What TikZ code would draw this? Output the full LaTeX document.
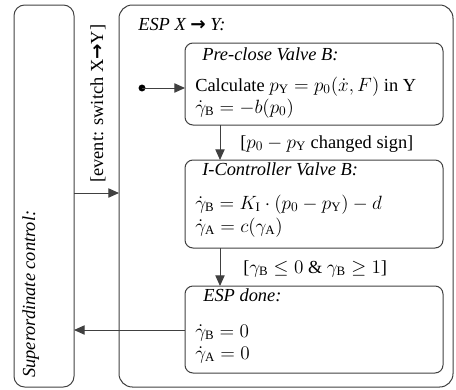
\documentclass[tikz,border=0pt]{standalone}
\usepackage{fontspec}
\setmainfont{Liberation Serif}
\newfontfamily\arrowfont{DejaVu Sans}
\usetikzlibrary{arrows.meta}
\newcommand{\arr}{{\arrowfont\bfseries →}}
\begin{document}
\begin{tikzpicture}[x=0.75pt,y=-0.75pt,
  line/.style={draw=black!75,line width=0.75pt},
  frame/.style={line,rectangle,inner sep=0pt,outer sep=0pt},
  statebox/.style={frame,rounded corners=6pt,minimum width=193.5pt},
  txt/.style={anchor=base west,inner sep=0pt,font=\fontsize{13.8}{15}\selectfont},
  ttl/.style={txt,font=\fontsize{13.8}{15}\selectfont\itshape},
  arrow/.style={line,-{Triangle[length=8pt,width=7pt]}}]
\useasboundingbox (0,0) rectangle (456,389);
% outer frames
\node[frame,rounded corners=8pt,minimum width=45pt,minimum height=286.5pt] (sup) at (44,196) {};
\node[frame,rounded corners=10pt,minimum width=250.5pt,minimum height=286.5pt] (esp) at (286,196) {};
% state boxes
\node[statebox,minimum height=61.5pt] (pre) at (314,84) {};
\node[statebox,minimum height=66pt] (ictl) at (314,204) {};
\node[statebox,minimum height=65.25pt] (done) at (314,329.5) {};
% texts
\node[ttl] (espt) at (138,30) {ESP X \arr\ Y:};
\node[ttl] (pret) at (202,60) {Pre-close Valve B:};
\node[txt] (pre1) at (195,91) {Calculate $p_{\mathrm{Y}}=p_0(\dot{x},F)$ in Y};
\node[txt] (pre2) at (195,113) {$\dot{\gamma}_{\mathrm{B}}=-b(p_0)$};
\node[ttl] (ictlt) at (202,175) {I-Controller Valve B:};
\node[txt] (ictl1) at (195,209) {$\dot{\gamma}_{\mathrm{B}}=K_{\mathrm{I}}\cdot(p_0-p_{\mathrm{Y}})-d$};
\node[txt] (ictl2) at (195,232) {$\dot{\gamma}_{\mathrm{A}}=c(\gamma_{\mathrm{A}})$};
\node[ttl] (donet) at (203,301) {ESP done:};
\node[txt] (done1) at (195,337) {$\dot{\gamma}_{\mathrm{B}}=0$};
\node[txt] (done2) at (195,359) {$\dot{\gamma}_{\mathrm{A}}=0$};
% guard labels
\node[txt] (g1) at (240,148) {[$p_0-p_{\mathrm{Y}}$ changed sign]};
\node[txt] (g2) at (243,273) {[$\gamma_{\mathrm{B}}\leq 0$ \& $\gamma_{\mathrm{B}}\geq 1$]};
% rotated labels
\node[txt,rotate=90,anchor=base west] (ev) at (103,183) {[event: switch X\arr Y]};
\node[ttl,rotate=90,anchor=base west] (supt) at (35,378) {Superordinate control:};
% initial dot
\coordinate (initc) at (142,88);
\fill[black] (initc) circle (2.6pt);
% connectors
\draw[arrow] (initc) -- (pre.west |- initc);
\draw[arrow] (pre.south -| 220,0) -- (ictl.north -| 220,0);
\draw[arrow] (ictl.south -| 220,0) -- (done.north -| 220,0);
\draw[arrow] (done.west |- 0,330) -- (sup.east |- 0,330);
\draw[arrow] (sup.east |- 0,193) -- (esp.west |- 0,193);
\end{tikzpicture}
\end{document}
